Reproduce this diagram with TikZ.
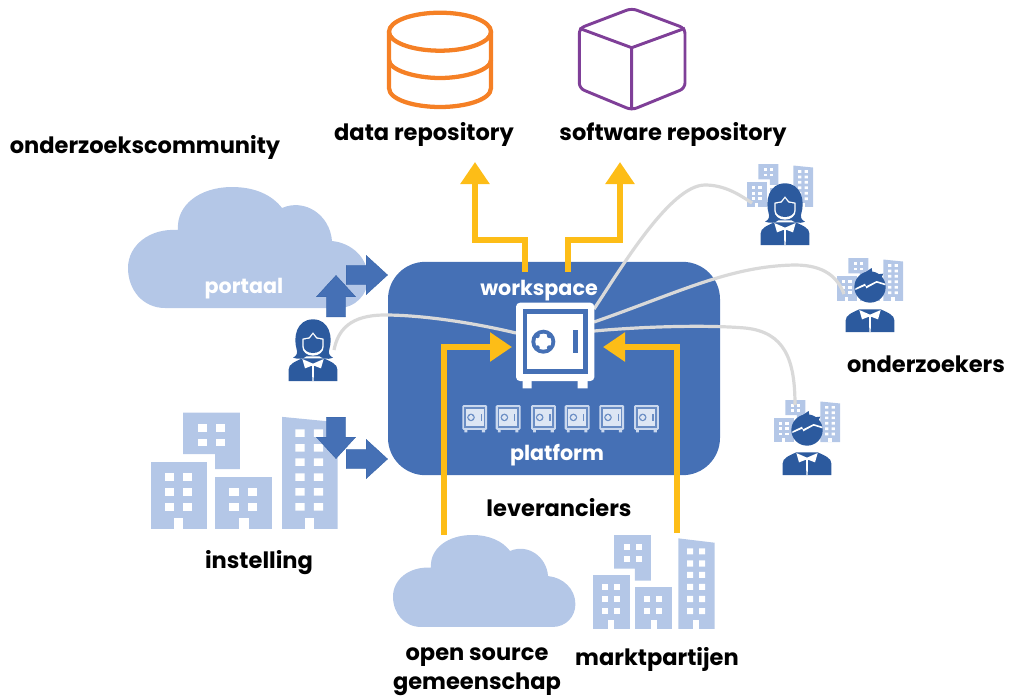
\documentclass[tikz,border=0pt]{standalone}
\usepackage{fontspec}
\setmainfont{Poppins}
\usetikzlibrary{arrows.meta,shapes.arrows}
\definecolor{platformblue}{HTML}{4570B5}
\definecolor{lightblue}{HTML}{B4C7E7}
\definecolor{darkblue}{HTML}{2C5A9E}
\definecolor{feedyellow}{HTML}{FDBD17}
\definecolor{linkgray}{HTML}{D9D9D9}
\definecolor{dataorange}{HTML}{F58025}
\definecolor{softpurple}{HTML}{7F3F98}
\newcommand{\bodice}{
	\fill[darkblue] (-73,0) -- (-73,-35) .. controls (-73,-50) and (-55,-58) .. (-32,-68) -- (32,-68) .. controls (55,-58) and (73,-50) .. (73,-35) -- (73,0) -- cycle;
	\fill[white] (-32,-66) -- (0,-52) -- (32,-66) -- (24,-38) -- (3,-46) -- (2,0) -- (-2,0) -- (-3,-46) -- (-24,-38) -- cycle;
}
\tikzset{
	label text/.style={font=\fontsize{16.9}{21.5}\selectfont\bfseries,align=center,inner sep=0pt},
	white text/.style={label text,font=\fontsize{15.5}{20}\selectfont\bfseries,text=white},
	feed/.style={draw=feedyellow,line width=4.5pt,-{Triangle[length=16.5pt,width=21pt]}},
	link/.style={draw=linkgray,line width=2.4pt},
	block arrow/.style={shape=single arrow,anchor=tail,fill=platformblue,draw=darkblue!60!platformblue,line width=.3pt,inner xsep=0pt,inner ysep=7pt,minimum height=31pt,single arrow head extend=7.5pt,single arrow tip angle=85},
	pics/cloud/.style={code={
		\fill[lightblue,shift={(-128,-187)}] (165,308) .. controls (143,308) and (128,290) .. (128,268) .. controls (128,245) and (150,228) .. (178,230) .. controls (176,205) and (200,187) .. (232,187) .. controls (255,187) and (272,195) .. (282,208) .. controls (305,198) and (330,215) .. (332,241) .. controls (352,243) and (368,258) .. (368,278) .. controls (368,295) and (355,308) .. (338,308) -- cycle;
	}},
	pics/buildings/.style={code={
		\begin{scope}[shift={(-40,-47)}]
			\fill[lightblue] (103,47) rectangle (213,147) (165,147) rectangle (213,183);
			\fill[lightblue] (40,165) rectangle (150,327);
			\fill[lightblue] (165,202) rectangle (275,327);
			\fill[lightblue] (295,57) -- (403,70) -- (403,327) -- (295,327) -- cycle;
			\foreach \x/\y in {132/75,167/75,132/110,167/110,67/193,103/193,67/229,103/229,67/265,103/265,193/229,229/229,193/265,229/265}
				\fill[white] (\x,\y) rectangle ++(18,18);
			\foreach \y in {87,123,157,193,229,265}
				\fill[white] (321,\y) rectangle ++(18,18) (357,\y) rectangle ++(18,18);
			\foreach \x in {85,212,339}
				\fill[white] (\x,300) rectangle ++(18,27);
		\end{scope}
	}},
	pics/woman/.style={code={
		\bodice
		\fill[darkblue] (-60,-70) .. controls (-48,-75) and (-46,-85) .. (-49,-95) .. controls (-60,-130) and (-50,-185) .. (0,-185) .. controls (50,-185) and (60,-130) .. (49,-95) .. controls (46,-85) and (48,-75) .. (60,-70) .. controls (40,-62) and (25,-70) .. (20,-74) -- (-20,-74) .. controls (-30,-65) and (-45,-65) .. (-60,-70) -- cycle;
		\fill[white] (-32,-127) -- (-12,-131) -- (0,-146) -- (12,-131) -- (32,-127) -- (32,-103) .. controls (32,-88) and (18,-76) .. (0,-76) .. controls (-18,-76) and (-32,-88) .. (-32,-103) -- cycle;
		\fill[darkblue] (-28,-124) -- (-10,-127) -- (0,-140) -- (10,-127) -- (28,-124) -- (28,-105) .. controls (28,-92) and (15,-84) .. (0,-84) .. controls (-15,-84) and (-28,-92) .. (-28,-105) -- cycle;
	}},
	pics/man/.style={code={
		\bodice
		\fill[darkblue] (0,-135) circle[radius=47];
		\fill[darkblue] (-20,-175) -- (5,-192) -- (8,-172) -- (40,-175) -- (30,-155) -- cycle;
		\fill[white] (-44,-131) -- (-15,-145) -- (-12,-137) -- (20,-153) -- (46,-145) -- (46,-140) -- (20,-148) -- (-11,-131) -- (-14,-139) -- (-44,-126) -- cycle;
	}},
	pics/safe/.style n args={4}{code={
		\fill[#1,rounded corners=#4] (0,0) rectangle (235,235);
		\fill[#1] (20,235) rectangle (47,257) (185,235) rectangle (215,257);
		\fill[#2] (20,20) rectangle (217,215);
		\fill[#3] (34,35) rectangle (202,200);
		\fill[#2] (82,117) circle[radius=36];
		\fill[#3] (82,117) circle[radius=24];
		\foreach \a in {45,135,225,315}
			\fill[#2] (82,117) ++(\a:25) circle[radius=7];
		\fill[#2] (172,82) rectangle (186,152);
	}},
}
\begin{document}
\begin{tikzpicture}[x=.75pt,y=-.75pt]
	\useasboundingbox (0,0) rectangle (1010,697);

	\pic at (128,187) {cloud};
	\pic[scale=.76] at (393,535) {cloud};
	\pic[xscale=.515,yscale=.415] at (150.7,412.7) {buildings};
	\pic[scale=.335] at (593,535) {buildings};
	\pic[xscale=.182,yscale=.153] at (747,164) {buildings};
	\pic[xscale=.182,yscale=.153] at (837,258) {buildings};
	\pic[xscale=.182,yscale=.15] at (774,400) {buildings};

	\node[fill=platformblue,rounded corners=28pt,minimum width=249pt,minimum height=160pt,inner sep=0pt] (platformbox) at (554,368.5) {};

	\coordinate (safeleft) at (516,333);
	\coordinate (safeup) at (594,309);
	\coordinate (safemid) at (594,322);
	\coordinate (safelow) at (594,331);
	\coordinate (womanleft) at (334,350);
	\coordinate (womanright) at (752,203);
	\coordinate (manupper) at (844,294);
	\coordinate (manlower) at (795,405);
	\draw[link] (safeleft) .. controls (470,322) and (420,315) .. (385,315) .. controls (350,315) and (338,330) .. (womanleft);
	\draw[link] (safeup) .. controls (620,270) and (670,185) .. (705,185) .. controls (725,185) and (740,195) .. (womanright);
	\draw[link] (safemid) .. controls (680,292) and (730,266) .. (795,265) .. controls (825,265) and (838,278) .. (manupper);
	\draw[link] (safelow) .. controls (650,326) and (710,325) .. (745,328) .. controls (785,332) and (795,360) .. (manlower);

	\pic[scale=1/3] at (516,302.7) {safe={white}{platformblue}{white}{3pt}};
	\foreach \x in {462.3,495.7,531,564.7,599.3,634}
		\pic[scale=.106] at (\x,405) {safe={lightblue!70!white}{platformblue!80!white}{lightblue!45!white}{1pt}};

	\pic[scale=1/3] at (313,381) {woman};
	\pic[scale=1/3] at (785,245) {woman};
	\pic[scale=1/3] at (870,332) {man};
	\pic[scale=1/3] at (807,475) {man};

	\coordinate (wsleft) at (525,272);
	\coordinate (wsright) at (568,272);
	\coordinate (datatip) at (475,162);
	\coordinate (softtip) at (620,162);
	\coordinate (openfoot) at (444,535);
	\coordinate (marketfoot) at (677,533);
	\coordinate (safein) at (512,347);
	\coordinate (safeinr) at (603,347);
	\draw[feed] (wsleft) -- (525,240) -| (datatip);
	\draw[feed] (wsright) -- (568,240) -| (softtip);
	\draw[feed] (openfoot) |- (safein);
	\draw[feed] (marketfoot) |- (safeinr);

	\node[block arrow] (arrowportaal) at (346,275) {};
	\node[block arrow,rotate=90] (arrowup) at (336,317) {};
	\node[block arrow,rotate=-90] (arrowdown) at (336,417) {};
	\node[block arrow] (arrowinst) at (346,459) {};

	\draw[dataorange,line width=3.2pt] (440,31.7) ellipse[x radius=51,y radius=19];
	\draw[dataorange,line width=3.2pt,line cap=round] (389,32) -- (389,88) .. controls (389,100) and (415,107) .. (440,107) .. controls (465,107) and (491,100) .. (491,88) -- (491,32);
	\draw[dataorange,line width=3.2pt] (389,60) .. controls (389,70) and (415,78) .. (440,78) .. controls (465,78) and (491,70) .. (491,60);

	\draw[softpurple,line width=2.2pt,rounded corners=4pt] (631.7,8.3) -- (685,28.3) -- (685,88.3) -- (631.7,110) -- (579.3,88.3) -- (579.3,28.3) -- cycle;
	\draw[softpurple,line width=2.2pt,line join=round] (579.3,28.3) -- (631.7,47.7) -- (685,28.3) (631.7,47.7) -- (631.7,110);

	\node[label text] (community) at (145,147) {onderzoekscommunity};
	\node[label text] (datarepo) at (424,134) {data repository};
	\node[label text] (softrepo) at (673,134) {software repository};
	\node[white text] (portaal) at (244,289) {portaal};
	\node[white text] (workspace) at (539,291) {workspace};
	\node[white text] (platform) at (557,455) {platform};
	\node[label text] (leveranciers) at (559,508) {leveranciers};
	\node[label text] (instelling) at (259,563) {instelling};
	\node[label text] (onderzoekers) at (926,364) {onderzoekers};
	\node[label text] (opensource) at (477,672) {open source\\gemeenschap};
	\node[label text] (markt) at (657,659) {marktpartijen};
\end{tikzpicture}
\end{document}
